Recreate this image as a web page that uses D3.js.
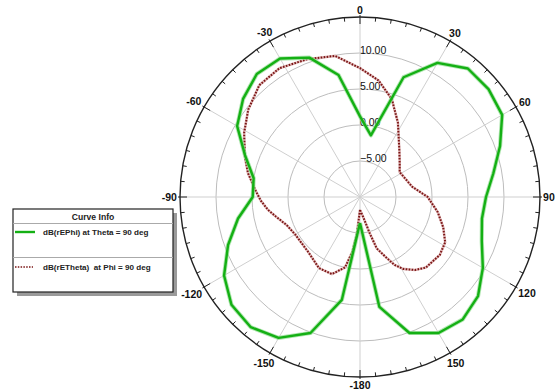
<!DOCTYPE html>
<html>
<head>
<meta charset="utf-8">
<script src="https://cdn.jsdelivr.net/npm/d3@7"></script>
<style>
  html, body { margin: 0; padding: 0; background: #fff; }
  svg { display: block; font-family: Arial, "Liberation Sans", sans-serif; }
  .legend text { white-space: pre; }
</style>
</head>
<body>
<svg id="chart" width="558" height="389"></svg>
<script>
// Far-field cut, dB(rEPhi) at Theta = 90 deg (angle in degrees, value in dB)
const ePhiAngles = [-180,-170,-160,-150,-140,-130,-120,-110,-100,-90,-80,-70,-60,-50,-40,-30,-20,-10,
                    0,10,20,30,40,50,60,70,80,90,100,110,120,130,140,150,160,170,180];
const ePhiDb = [-6.4,4.5,10.1,12.6,13.6,13.3,11.8,9.5,7.2,4.9,5.0,7.0,9.7,11.2,12.3,12.2,10.6,7.2,
                1.2,-1.3,7.7,11.5,13.3,13.3,12.8,10.7,8.8,7.5,7.2,8.0,9.7,11.4,12.2,11.8,10.1,5.5,-6.4];

// dB(rETheta) at Phi = 90 deg
const eThetaAngles = [-180,-175,-172,-168,-160,-150,-137,-120,-111,-103,-98,-92,-86,-78,-71,-61,-52,-42,
                      -32,-21,-10,0,9,18,27,40,50,58,79,90,101,110,118,126,137,143,149,153,157,162,165,171,180];
const eThetaDb = [-8.2,-4.7,-2.3,0.0,1.4,1.4,0.5,0.4,0.9,2.0,2.9,3.8,4.6,5.9,6.9,8.4,9.7,10.9,
                  11.1,10.5,9.9,7.9,6.4,4.3,1.6,-1.5,-2.8,-3.5,-2.6,-0.6,1.0,2.3,3.4,3.7,3.4,2.7,1.65,0.6,-1.0,-2.5,-4.8,-7.2,-8.2];

// Axis definitions
const radialDomain = [-10, 15];
const radialGridValues = [-5, 0, 5, 10];
const angleLabelValues = [0, 30, 60, 90, 120, 150, -180, -150, -120, -90, -60, -30];
const seriesNames = ["dB(rEPhi) at Theta = 90 deg", "dB(rETheta)  at Phi = 90 deg"];
const legendTitle = "Curve Info";

const svg = d3.select("#chart");
const cx = 360, cy = 197, R = 180;
const toRad = d => d * Math.PI / 180;

const r = d3.scaleLinear().domain(radialDomain).range([0, R]);

const g = svg.append("g").attr("transform", `translate(${cx},${cy})`);

// Grid circles
g.selectAll("circle.grid").data(radialGridValues).join("circle")
  .attr("class", "grid")
  .attr("r", d => r(d))
  .attr("fill", "none")
  .attr("stroke", "#bdbdbd")
  .attr("stroke-width", 1);

// Radial spokes every 30 degrees
g.selectAll("line.spoke").data(d3.range(0, 360, 30)).join("line")
  .attr("class", "spoke")
  .attr("x1", 0).attr("y1", 0)
  .attr("x2", d => R * Math.sin(toRad(d)))
  .attr("y2", d => -R * Math.cos(toRad(d)))
  .attr("stroke", "#cfcfcf")
  .attr("stroke-width", 1);

// Outer ring
g.append("circle")
  .attr("r", R)
  .attr("fill", "none")
  .attr("stroke", "#222")
  .attr("stroke-width", 1.4);

// Tick marks around the ring: every 5 degrees, longer every 30
g.selectAll("line.tick").data(d3.range(0, 360, 5)).join("line")
  .attr("class", "tick")
  .attr("x1", d => (d % 30 === 0 ? R + 2 : R) * Math.sin(toRad(d)))
  .attr("y1", d => -(d % 30 === 0 ? R + 2 : R) * Math.cos(toRad(d)))
  .attr("x2", d => (d % 30 === 0 ? R - 7 : R - 4) * Math.sin(toRad(d)))
  .attr("y2", d => -(d % 30 === 0 ? R - 7 : R - 4) * Math.cos(toRad(d)))
  .attr("stroke", "#222")
  .attr("stroke-width", 1);

// Radial value labels along the 0-degree spoke
g.selectAll("text.rlabel").data(radialGridValues).join("text")
  .attr("class", "rlabel")
  .attr("x", 0)
  .attr("y", d => -r(d) + 1)
  .attr("font-size", 10.5)
  .attr("fill", "#111")
  .text(d => d3.format(".2f")(d));

// Angle labels outside the ring
const angLabels = g.selectAll("text.alabel").data(angleLabelValues).join("text")
  .attr("class", "alabel")
  .attr("font-size", 10.5)
  .attr("font-weight", "bold")
  .attr("fill", "#111")
  .attr("text-anchor", "middle")
  .attr("dominant-baseline", "central")
  .text(d => String(d));
angLabels.each(function(d) {
  const bb = this.getBBox();
  const a = toRad(d);
  const rr = R + 3 + (bb.width / 2) * Math.abs(Math.sin(a)) + 4.5 * Math.abs(Math.cos(a));
  d3.select(this).attr("x", rr * Math.sin(a)).attr("y", -rr * Math.cos(a));
});

// Curves
const radial = d3.lineRadial()
  .angle(d => toRad(d[0]))
  .radius(d => r(d[1]))
  .curve(d3.curveLinear);

const phiPts = ePhiAngles.map((a, i) => [a, ePhiDb[i]]);
const thetaPts = eThetaAngles.map((a, i) => [a, eThetaDb[i]]);

g.append("path").attr("d", radial(thetaPts))
  .attr("fill", "none").attr("stroke", "#e2bcbc").attr("stroke-width", 2.6);
g.append("path").attr("d", radial(thetaPts))
  .attr("fill", "none").attr("stroke", "#7a1414").attr("stroke-width", 2)
  .attr("stroke-dasharray", "1.6 1.4");

g.append("path").attr("d", radial(phiPts))
  .attr("fill", "none").attr("stroke", "#8fdc8f").attr("stroke-width", 4.2)
  .attr("stroke-linejoin", "round").attr("opacity", 0.7);
g.append("path").attr("d", radial(phiPts))
  .attr("fill", "none").attr("stroke", "#14b014").attr("stroke-width", 2.4)
  .attr("stroke-linejoin", "round");

// Legend box
const lg = svg.append("g").attr("class", "legend").attr("transform", "translate(13,209)");
const lw = 160, lh = 83;
lg.append("rect").attr("x", 4).attr("y", 4).attr("width", lw).attr("height", lh).attr("fill", "#9a9a9a");
lg.append("rect").attr("x", 0).attr("y", 0).attr("width", lw).attr("height", lh)
  .attr("fill", "#fff").attr("stroke", "#222").attr("stroke-width", 1.2);
lg.append("text").attr("x", lw / 2).attr("y", 10.5).attr("text-anchor", "middle")
  .attr("font-size", 8.6).attr("font-weight", "bold").attr("fill", "#222").text(legendTitle);
lg.append("line").attr("x1", 0).attr("x2", lw).attr("y1", 14.5).attr("y2", 14.5)
  .attr("stroke", "#aaa").attr("stroke-width", 1);
lg.append("line").attr("x1", 0).attr("x2", lw).attr("y1", 48.5).attr("y2", 48.5)
  .attr("stroke", "#aaa").attr("stroke-width", 1);

// Legend rows
lg.append("line").attr("x1", 2).attr("x2", 22).attr("y1", 23).attr("y2", 23)
  .attr("stroke", "#14b014").attr("stroke-width", 2.4);
lg.append("text").attr("x", 30).attr("y", 23).attr("dominant-baseline", "central")
  .attr("font-size", 8.1).attr("font-weight", "bold").attr("fill", "#222").text(seriesNames[0]);
lg.append("line").attr("x1", 2).attr("x2", 20).attr("y1", 58).attr("y2", 58)
  .attr("stroke", "#7a1414").attr("stroke-width", 1.6).attr("stroke-dasharray", "1.5 1.3");
lg.append("text").attr("x", 30).attr("y", 58).attr("dominant-baseline", "central")
  .attr("font-size", 8.1).attr("font-weight", "bold").attr("fill", "#222").text(seriesNames[1]);
</script>
</body>
</html>
